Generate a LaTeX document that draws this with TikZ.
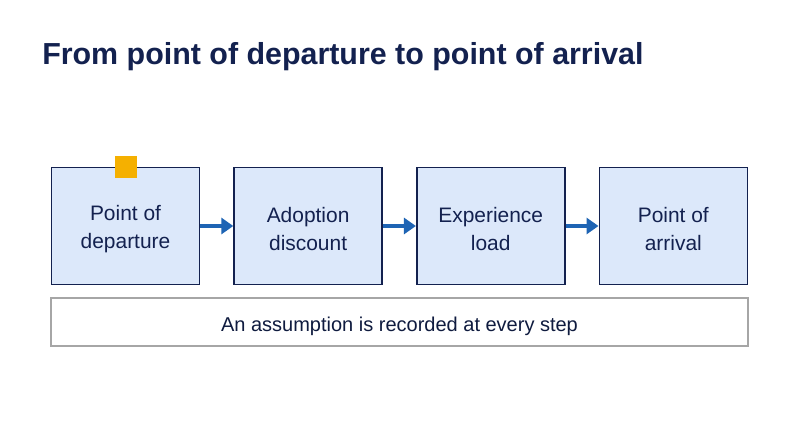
\documentclass[tikz,border=0pt]{standalone}
\usepackage{fontspec}
\setmainfont{Liberation Sans}
\usetikzlibrary{positioning,arrows.meta}
\definecolor{navy}{HTML}{13214F}
\definecolor{boxfill}{HTML}{DCE8FA}
\definecolor{flowblue}{HTML}{1E64B4}
\definecolor{mark}{HTML}{F5B000}
\newcommand{\lift}{\rule{0pt}{16pt}}
\tikzset{
  stage/.style={draw=navy, line width=1.2pt, fill=boxfill, minimum width=148*0.75pt,
    minimum height=117*0.75pt, align=center, font=\fontsize{15.7}{21}\selectfont, text=navy, inner sep=0pt},
  flow/.style={-{Triangle[length=9pt,width=12pt]}, line width=2.4pt, draw=flowblue},
}
\begin{document}
\begin{tikzpicture}[x=0.75pt,y=-0.75pt]
\useasboundingbox[fill=white] (0,0) rectangle (800,447);
\node [anchor=west, inner sep=0pt, font=\bfseries\fontsize{22.8}{27}\selectfont, text=navy] (title) at (42,57) {From point of departure to point of arrival};
\node [stage] (dep) at (125.5,226) {\lift Point of\\departure};
\node [stage, right=33*0.75pt of dep] (adopt) {\lift Adoption\\discount};
\node [stage, right=33*0.75pt of adopt] (load) {\lift Experience\\load};
\node [stage, right=33*0.75pt of load] (arr) {\lift Point of\\arrival};
\draw [flow] (dep) -- (adopt);
\draw [flow] (adopt) -- (load);
\draw [flow] (load) -- (arr);
\node [fill=mark, minimum size=22*0.75pt, inner sep=0pt] (flag) at (126,167) {};
\node [draw=gray!70, line width=1pt, fill=white, minimum width=697*0.75pt, minimum height=48*0.75pt,
  font=\fontsize{15}{18}\selectfont, text=navy!80!black, inner sep=0pt] (note) at (399.5,322) {\rule{0pt}{17pt}An assumption is recorded at every step};
\end{tikzpicture}
\end{document}
